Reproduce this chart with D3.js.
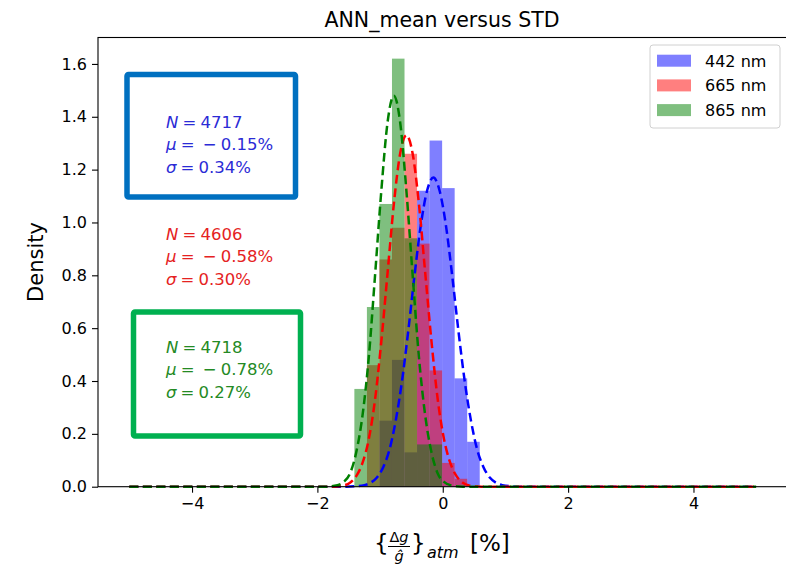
<!DOCTYPE html>
<html>
<head>
<meta charset="utf-8">
<script src="https://cdn.jsdelivr.net/npm/d3@7"></script>
<style>
  body { margin: 0; background: #fff; }
  text { font-family: "DejaVu Sans", sans-serif; }
</style>
</head>
<body>
<svg id="chart"></svg>
<script>
// histogram bins (shared edges) and densities
var binEdges = [-1.41, -1.21, -1.01, -0.81, -0.61, -0.41, -0.21, -0.01, 0.19, 0.39, 0.59];
var blueDensity = [0, 0, 0.25, 0.48, 0.13, 1.12, 1.31, 1.13, 0.41, 0.17];
var redDensity = [0, 0.46, 0.86, 0.98, 1.26, 0.92, 0.44, 0.09, 0.03, 0];
var greenDensity = [0.37, 0.68, 1.07, 1.62, 0.94, 0.16, 0.16, 0, 0, 0];

// dashed fitted curves
var blueFit = [[-5, 0], [-1.55, 0], [-1.25, 0.006], [-1.15, 0.015], [-1.05, 0.035], [-0.95, 0.074], [-0.85, 0.14],
  [-0.75, 0.25], [-0.65, 0.40], [-0.55, 0.59], [-0.45, 0.80], [-0.35, 0.99], [-0.25, 1.12], [-0.15, 1.17],
  [-0.05, 1.12], [0.05, 0.99], [0.15, 0.80], [0.25, 0.59], [0.35, 0.40], [0.45, 0.25], [0.55, 0.14],
  [0.65, 0.074], [0.75, 0.035], [0.85, 0.015], [0.95, 0.006], [1.25, 0], [5, 0]];
var redFit = [[-5, 0], [-1.78, 0], [-1.58, 0.005], [-1.48, 0.015], [-1.38, 0.04], [-1.28, 0.09], [-1.18, 0.18],
  [-1.08, 0.33], [-0.98, 0.55], [-0.88, 0.81], [-0.78, 1.07], [-0.68, 1.26], [-0.58, 1.33], [-0.48, 1.26],
  [-0.38, 1.07], [-0.28, 0.81], [-0.18, 0.55], [-0.08, 0.33], [0.02, 0.18], [0.12, 0.09], [0.22, 0.04],
  [0.32, 0.015], [0.42, 0.005], [0.62, 0], [5, 0]];
var greenFit = [[-5, 0], [-1.88, 0], [-1.68, 0.006], [-1.58, 0.018], [-1.48, 0.05], [-1.38, 0.13], [-1.28, 0.27],
  [-1.18, 0.49], [-1.08, 0.80], [-0.98, 1.12], [-0.88, 1.38], [-0.78, 1.48], [-0.68, 1.38], [-0.58, 1.12],
  [-0.48, 0.80], [-0.38, 0.49], [-0.28, 0.27], [-0.18, 0.13], [-0.08, 0.05], [0.02, 0.018], [0.12, 0.006],
  [0.32, 0], [5, 0]];

var seriesNames = ["442 nm", "665 nm", "865 nm"];
var statN = ["4717", "4606", "4718"];
var statMu = ["0.15%", "0.58%", "0.78%"];
var statSigma = ["0.34%", "0.30%", "0.27%"];
var xTicks = [-4, -2, 0, 2, 4];
var yTicks = [0, 0.2, 0.4, 0.6, 0.8, 1.0, 1.2, 1.4, 1.6];

var W = 786, H = 566;
var svg = d3.select('#chart').attr('width', W).attr('height', H);

var x = d3.scaleLinear().domain([-5.5, 5.5]).range([98, 787.5]);
var y = d3.scaleLinear().domain([0, 1.70]).range([486.7, 37.5]);

var colors = ["#0000ff", "#ff0000", "#008000"];
var textColors = ["#2b2bd6", "#e52222", "#248a24"];
var densities = [blueDensity, redDensity, greenDensity];
var fits = [blueFit, redFit, greenFit];

// bars
densities.forEach(function(dens, s) {
  svg.append('g').selectAll('rect')
    .data(dens.map(function(v, i) { return {x0: binEdges[i], x1: binEdges[i + 1], v: v}; })
      .filter(function(d) { return d.v > 0; }))
    .enter()
    .append('rect')
    .attr('x', function(d) { return x(d.x0); })
    .attr('width', function(d) { return x(d.x1) - x(d.x0); })
    .attr('y', function(d) { return y(d.v); })
    .attr('height', function(d) { return y(0) - y(d.v); })
    .attr('fill', colors[s])
    .attr('fill-opacity', 0.5);
});

// dashed fits
var line = d3.line()
  .x(function(d) { return x(d[0]); })
  .y(function(d) { return y(d[1]); })
  .curve(d3.curveMonotoneX);

fits.forEach(function(f, s) {
  svg.append('path')
    .attr('d', line(f))
    .attr('fill', 'none')
    .attr('stroke', colors[s])
    .attr('stroke-width', 2.5)
    .attr('stroke-dasharray', '9,4.5');
});

// axes
var xAxis = svg.append('g')
  .attr('transform', 'translate(0,' + y(0) + ')')
  .call(d3.axisBottom(x).tickValues(xTicks).tickSize(6).tickPadding(5).tickFormat(d3.format('d')));
var yAxis = svg.append('g')
  .attr('transform', 'translate(' + x(-5.5) + ',0)')
  .call(d3.axisLeft(y).tickValues(yTicks).tickSize(6).tickPadding(5).tickFormat(d3.format('.1f')));
[xAxis, yAxis].forEach(function(a) {
  a.select('.domain').remove();
  a.selectAll('text').attr('font-size', 16).attr('fill', '#000')
    .style('font-family', '"DejaVu Sans", sans-serif');
  a.selectAll('line').attr('stroke', '#000').attr('stroke-width', 1.1);
});

svg.append('rect')
  .attr('x', x(-5.5)).attr('y', y(1.70))
  .attr('width', x(5.5) - x(-5.5)).attr('height', y(0) - y(1.70))
  .attr('fill', 'none').attr('stroke', '#000').attr('stroke-width', 1.1);

// title and labels
svg.append('text')
  .attr('x', 442).attr('y', 27)
  .attr('text-anchor', 'middle').attr('font-size', 20.5)
  .text('ANN_mean versus STD');

svg.append('text')
  .attr('transform', 'translate(43,262) rotate(-90)')
  .attr('text-anchor', 'middle').attr('font-size', 21)
  .text('Density');

var xl = svg.append('g');
xl.append('text').attr('x', 374).attr('y', 551).attr('font-size', 23).text('{');
xl.append('text').attr('x', 399).attr('y', 542).attr('font-size', 14.5).attr('text-anchor', 'middle')
  .text('Δ').append('tspan').attr('font-style', 'italic').text('g');
xl.append('line').attr('x1', 388).attr('x2', 410).attr('y1', 546.5).attr('y2', 546.5)
  .attr('stroke', '#000').attr('stroke-width', 1);
xl.append('text').attr('x', 399).attr('y', 561).attr('font-size', 14.5).attr('text-anchor', 'middle')
  .attr('font-style', 'italic').text('ĝ');
xl.append('text').attr('x', 411).attr('y', 551).attr('font-size', 23).text('}');
xl.append('text').attr('x', 427).attr('y', 558).attr('font-size', 16).attr('font-style', 'italic').text('atm');
xl.append('text').attr('x', 470).attr('y', 551).attr('font-size', 23).text('[%]');

// legend
var legend = svg.append('g');
legend.append('rect')
  .attr('x', 650).attr('y', 45).attr('width', 130).attr('height', 83).attr('rx', 3)
  .attr('fill', '#fff').attr('fill-opacity', 0.8).attr('stroke', '#d0d0d0');
var rows = legend.selectAll('.legend').data(seriesNames).enter()
  .append('g').attr('class', 'legend')
  .attr('transform', function(d, i) { return 'translate(657,' + (60.7 + i * 24.7) + ')'; });
rows.append('rect').attr('x', 0).attr('y', -6).attr('width', 34).attr('height', 12)
  .attr('fill', function(d, i) { return colors[i]; }).attr('fill-opacity', 0.5);
rows.append('text').attr('x', 48).attr('y', 5.8).attr('font-size', 16)
  .attr('fill', '#000').text(function(d) { return d; });

// stats annotations
var statY = [128, 240, 353];
statN.forEach(function(n, i) {
  var t = svg.append('text').attr('x', 166).attr('y', statY[i])
    .attr('font-size', 16.5).attr('fill', textColors[i]);
  var l1 = t.append('tspan').attr('x', 166);
  l1.append('tspan').attr('font-style', 'italic').text('N');
  l1.append('tspan').text('\u2005=\u2005' + n);
  var l2 = t.append('tspan').attr('x', 166).attr('dy', 22.3);
  l2.append('tspan').attr('font-style', 'italic').text('μ');
  l2.append('tspan').text('\u2005=\u2002\u2212\u2005' + statMu[i]);
  var l3 = t.append('tspan').attr('x', 166).attr('dy', 22.3);
  l3.append('tspan').attr('font-style', 'italic').text('σ');
  l3.append('tspan').text('\u2005=\u2005' + statSigma[i]);
});

// highlight boxes drawn over the figure
svg.append('rect').attr('x', 127).attr('y', 74.5).attr('width', 168.5).attr('height', 122.5).attr('rx', 1.5)
  .attr('fill', 'none').attr('stroke', '#0070c0').attr('stroke-width', 5.5);
svg.append('rect').attr('x', 133.5).attr('y', 312).attr('width', 167).attr('height', 124).attr('rx', 1.5)
  .attr('fill', 'none').attr('stroke', '#00b050').attr('stroke-width', 5.5);
</script>
</body>
</html>
